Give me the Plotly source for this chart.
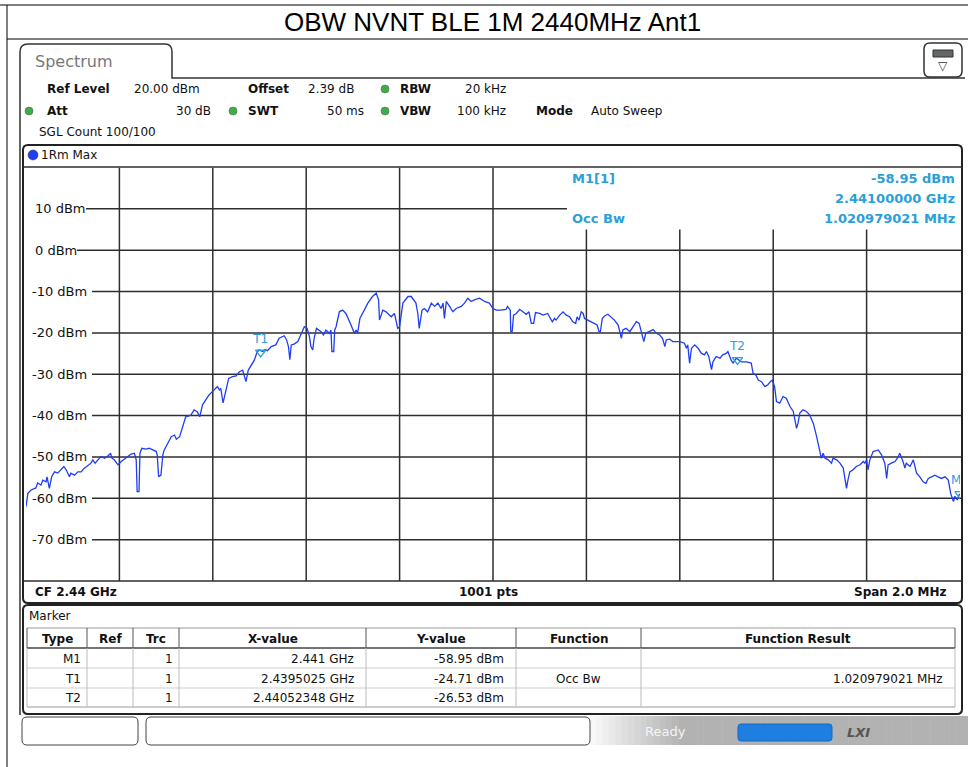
import plotly.graph_objects as go

W, H = 968, 767

# trace: offset from CF (kHz) and level (dBm)
CF_GHZ = 2.44
freq_offset_khz = [
    -1000, -996, -989, -979, -975, -968, -964, -957, -955, -950, -945, -939, -932, -925, -919, -914,
    -907, -904, -896, -889, -882, -875, -868, -861, -857, -852, -846, -839, -832, -825, -819, -816,
    -811, -803, -796, -789, -782, -775, -768, -764, -762, -758, -756, -752, -743, -736, -728, -721,
    -719, -716, -711, -707, -704, -696, -689, -682, -678, -671, -664, -658, -647, -640, -633, -628,
    -622, -615, -608, -601, -595, -590, -586, -583, -578, -573, -566, -558, -550, -543, -536, -533,
    -529, -524, -518, -511, -506, -501, -493, -488, -483, -475, -465, -458, -447, -442, -438, -435,
    -432, -426, -418, -411, -404, -398, -393, -390, -386, -383, -378, -368, -363, -358, -350, -347,
    -345, -341, -339, -336, -333, -329, -322, -315, -304, -297, -293, -290, -285, -279, -268, -258,
    -250, -245, -243, -236, -229, -218, -211, -204, -200, -193, -182, -175, -165, -161, -158, -152,
    -147, -140, -132, -125, -118, -111, -107, -104, -100, -93, -86, -79, -68, -61, -54, -47,
    -40, -29, -18, -8, 0, 7, 17, 28, 31, 37, 38, 41, 44, 50, 57, 64,
    71, 77, 82, 87, 91, 100, 107, 117, 121, 127, 132, 135, 143, 150, 157, 164,
    171, 177, 180, 184, 189, 193, 196, 203, 211, 218, 223, 227, 230, 234, 239, 246,
    253, 260, 268, 271, 275, 278, 285, 293, 300, 307, 313, 318, 323, 327, 335, 343,
    350, 357, 363, 368, 371, 378, 385, 393, 400, 410, 414, 417, 421, 425, 432, 439,
    446, 453, 457, 462, 468, 471, 478, 486, 492, 500, 503, 510, 514, 521, 532, 543,
    553, 557, 563, 568, 575, 582, 588, 594, 598, 603, 607, 614, 621, 628, 636, 643,
    646, 650, 653, 657, 664, 671, 678, 686, 693, 700, 703, 707, 711, 718, 725, 728,
    736, 743, 750, 753, 757, 760, 764, 771, 778, 786, 793, 796, 800, 803, 807, 814,
    825, 832, 839, 843, 846, 853, 861, 868, 871, 878, 882, 885, 893, 900, 903, 907,
    914, 921, 927, 932, 939, 946, 953, 960, 968, 975, 980, 986, 989, 994, 998, 1000,
]
level_dbm = [
    -62.0, -58.8, -58.0, -57.5, -56.3, -56.8, -55.6, -56.0, -54.8, -57.6, -54.8, -53.6, -53.9, -53.1, -52.3, -53.1,
    -54.8, -53.9, -54.4, -53.6, -53.6, -52.7, -52.2, -51.5, -50.7, -51.5, -50.7, -49.9, -50.3, -49.8, -49.1, -50.3,
    -50.7, -51.9, -51.1, -50.6, -49.9, -49.3, -49.1, -50.7, -58.4, -58.4, -49.1, -47.9, -48.1, -47.9, -48.3, -48.7,
    -49.5, -54.8, -54.4, -49.5, -48.3, -46.7, -45.1, -44.7, -45.7, -45.1, -42.7, -40.3, -39.9, -38.6, -39.1, -40.3,
    -37.4, -36.2, -35.0, -34.2, -33.4, -33.0, -33.8, -33.4, -36.9, -34.2, -31.0, -30.6, -30.4, -29.4, -29.0, -30.2,
    -31.8, -29.0, -27.8, -26.6, -24.9, -24.1, -24.5, -24.0, -24.3, -23.3, -22.9, -21.3, -20.7, -21.7, -23.3, -26.5,
    -22.9, -22.7, -22.1, -20.5, -18.5, -18.9, -20.9, -23.3, -24.1, -21.3, -18.9, -19.7, -20.5, -19.3, -20.1, -19.3,
    -24.5, -24.5, -19.3, -18.5, -16.9, -14.9, -14.5, -15.3, -18.1, -20.1, -19.3, -20.1, -16.5, -15.3, -12.8, -11.2,
    -10.4, -12.0, -16.9, -14.5, -14.9, -16.1, -15.3, -18.9, -18.5, -12.8, -11.2, -11.2, -12.8, -15.3, -18.9, -14.5,
    -14.1, -14.9, -12.8, -13.6, -12.8, -14.1, -12.8, -16.5, -12.4, -13.6, -14.9, -14.1, -13.6, -12.8, -11.6, -12.4,
    -12.0, -11.6, -12.4, -12.8, -14.1, -14.5, -14.5, -14.3, -13.6, -14.5, -19.7, -19.7, -15.7, -15.3, -14.3, -14.9,
    -15.5, -14.9, -17.7, -17.7, -15.1, -15.3, -15.7, -15.3, -16.1, -17.3, -16.5, -16.9, -15.7, -14.9, -15.7, -16.1,
    -17.3, -17.7, -16.1, -16.9, -14.9, -15.3, -16.5, -16.9, -17.3, -17.7, -18.1, -19.7, -19.7, -16.5, -15.9, -15.5,
    -16.1, -16.9, -18.1, -19.3, -21.3, -19.3, -18.9, -19.7, -18.5, -17.3, -17.7, -20.1, -22.1, -20.1, -19.7, -19.2,
    -20.1, -20.5, -21.3, -23.3, -21.7, -21.5, -22.1, -22.1, -22.1, -22.5, -23.7, -22.9, -27.3, -23.7, -22.9, -23.7,
    -24.9, -25.3, -24.5, -25.7, -28.9, -27.0, -25.7, -26.1, -25.3, -24.9, -24.5, -26.6, -27.3, -26.1, -27.0, -27.0,
    -27.3, -29.8, -30.2, -31.4, -31.8, -33.0, -32.6, -31.8, -31.4, -33.0, -36.6, -37.0, -35.4, -35.8, -37.8, -39.0,
    -40.6, -43.1, -41.9, -39.4, -38.6, -39.0, -39.8, -41.9, -45.1, -48.3, -50.3, -49.1, -50.3, -50.7, -51.5, -50.3,
    -50.7, -51.5, -52.7, -54.8, -57.6, -55.6, -53.6, -53.1, -52.3, -51.9, -51.1, -51.5, -50.7, -53.1, -50.7, -48.7,
    -48.3, -49.5, -51.5, -55.2, -51.9, -51.5, -51.1, -49.9, -49.1, -51.1, -52.7, -51.5, -52.3, -50.7, -51.9, -53.9,
    -54.8, -56.0, -56.4, -55.2, -54.8, -54.4, -54.8, -55.2, -54.8, -55.6, -58.8, -60.8, -59.5, -60.4, -59.2, -58.95,
]

y_ticks = [10, 0, -10, -20, -30, -40, -50, -60, -70]

marker_names = ["M1", "T1", "T2"]
marker_freq_ghz = [2.441, 2.4395025, 2.44052348]
marker_level_dbm = [-58.95, -24.71, -26.53]
marker_x_text = ["2.441 GHz", "2.4395025 GHz", "2.44052348 GHz"]
marker_y_text = ["-58.95 dBm", "-24.71 dBm", "-26.53 dBm"]
marker_function = ["", "Occ Bw", ""]
marker_result = ["", "1.020979021 MHz", ""]

FONT = "DejaVu Sans"
MK_BLUE = "#2a9fd8"
GRID = "#2e2e2e"
GREEN = "#3fae49"


def px(x):
    return x / W


def py(y):
    return 1 - y / H


def rrect(x0, y0, x1, y1, r):
    """rounded rectangle path in paper coords, from pixel values"""
    p = [
        f"M {px(x0 + r)},{py(y0)}", f"L {px(x1 - r)},{py(y0)}", f"Q {px(x1)},{py(y0)} {px(x1)},{py(y0 + r)}",
        f"L {px(x1)},{py(y1 - r)}", f"Q {px(x1)},{py(y1)} {px(x1 - r)},{py(y1)}",
        f"L {px(x0 + r)},{py(y1)}", f"Q {px(x0)},{py(y1)} {px(x0)},{py(y1 - r)}",
        f"L {px(x0)},{py(y0 + r)}", f"Q {px(x0)},{py(y0)} {px(x0 + r)},{py(y0)}", "Z",
    ]
    return " ".join(p)


shapes = []
annotations = []


def box(x0, y0, x1, y1, line="#222", width=1, fill=None, layer="below"):
    shapes.append(dict(type="rect", xref="paper", yref="paper", x0=px(x0), x1=px(x1), y0=py(y1), y1=py(y0),
                       line=dict(color=line, width=width), fillcolor=fill, layer=layer))


def hline(x0, x1, y, color="#222", width=1):
    shapes.append(dict(type="line", xref="paper", yref="paper", x0=px(x0), x1=px(x1), y0=py(y), y1=py(y),
                       line=dict(color=color, width=width), layer="below"))


def vline(x, y0, y1, color="#222", width=1):
    shapes.append(dict(type="line", xref="paper", yref="paper", x0=px(x), x1=px(x), y0=py(y0), y1=py(y1),
                       line=dict(color=color, width=width), layer="below"))


def text(x, y, s, size=12, color="#111", bold=False, anchor="left", family=FONT):
    if bold:
        s = f"<b>{s}</b>"
    annotations.append(dict(x=px(x), y=py(y), xref="paper", yref="paper", text=s, showarrow=False,
                            xanchor=anchor, yanchor="middle", font=dict(family=family, size=size, color=color)))


def dot(x, y, r, color, line="#555"):
    shapes.append(dict(type="circle", xref="paper", yref="paper", x0=px(x - r), x1=px(x + r),
                       y0=py(y + r), y1=py(y - r), fillcolor=color, line=dict(color=line, width=0.5)))


# page title box
hline(0, W, 5, "#000", 1)
hline(7, W, 39, "#000", 1)
vline(7, 5, H, "#000", 1)
text(492, 22, "OBW NVNT BLE 1M 2440MHz Ant1", size=26, color="#000", anchor="center", family="Liberation Sans")

# status bar background gradient (drawn first, under everything else)
for i in range(60):
    g = int(248 - 70 * min(1, i / 14))
    box(590 + i * 6.3, 716, 590 + (i + 1) * 6.3 + 0.5, 745, line=f"rgb({g},{g},{g})", width=0,
        fill=f"rgb({g},{g},{g})")

# instrument frame + Spectrum tab
shapes.append(dict(type="path", xref="paper", yref="paper", layer="below", line=dict(color="#333", width=1.5),
                   path=f"M {px(20)},{py(715)} L {px(20)},{py(52)} Q {px(20)},{py(44)} {px(28)},{py(44)} "
                        f"L {px(165)},{py(44)} Q {px(172)},{py(44)} {px(172)},{py(52)} L {px(172)},{py(78)} "
                        f"L {px(965)},{py(78)}"))
text(33, 61, "Spectrum", size=16, color="#777")
shapes.append(dict(type="path", xref="paper", yref="paper", path=rrect(924, 43, 962, 77, 6),
                   line=dict(color="#333", width=1.5), fillcolor="white", layer="below"))
box(933, 50, 953, 57, line="#333", width=1, fill="#666")
text(943, 66, "▽", size=12, color="#333", anchor="center")

# setting lines
text(45, 89, "Ref Level", bold=True)
text(132, 89, "20.00 dBm")
text(246, 89, "Offset", bold=True)
text(306, 89, "2.39 dB")
dot(385, 89, 4, GREEN)
text(398, 89, "RBW", bold=True)
text(508, 89, "20 kHz", anchor="right")
dot(29, 111, 4, GREEN)
text(45, 111, "Att", bold=True)
text(213, 111, "30 dB", anchor="right")
dot(233, 111, 4, GREEN)
text(246, 111, "SWT", bold=True)
text(366, 111, "50 ms", anchor="right")
dot(385, 111, 4, GREEN)
text(398, 111, "VBW", bold=True)
text(508, 111, "100 kHz", anchor="right")
text(534, 111, "Mode", bold=True)
text(589, 111, "Auto Sweep")
text(37, 132, "SGL Count 100/100")

# trace window
shapes.append(dict(type="path", xref="paper", yref="paper", path=rrect(23, 145, 962, 603, 5),
                   line=dict(color="#222", width=2), layer="below"))
hline(23, 962, 167, GRID, 1.5)
hline(23, 962, 581, GRID, 1.5)
dot(33, 155, 5, "#1f3df5", "#333")
text(39, 155, "1Rm Max")
text(33, 592, "CF 2.44 GHz", bold=True)
text(489, 592, "1001 pts", bold=True, anchor="center")
text(948, 592, "Span 2.0 MHz", bold=True, anchor="right")

# vertical grid (data coords); right ones stop below the marker readout
for k in range(1, 10):
    xg = CF_GHZ - 0.001 + 0.0002 * k
    shapes.append(dict(type="line", xref="x", yref="y", x0=xg, x1=xg, y0=-80, y1=20 if k < 6 else 5,
                       line=dict(color=GRID, width=1.5), layer="below"))
# horizontal grid starts after each level label
for v in y_ticks:
    lab = f"{v} dBm"
    x_lab = 33 if v >= 0 else 30
    x_start = x_lab + 9.0 * len(lab) - 1
    x_end = 567 if v == 10 else 961
    shapes.append(dict(type="line", xref="paper", yref="y", x0=px(x_start), x1=px(x_end), y0=v, y1=v,
                       line=dict(color=GRID, width=1.5), layer="below"))
    annotations.append(dict(x=px(x_lab), y=v, xref="paper", yref="y", text=lab, showarrow=False,
                            xanchor="left", yanchor="middle", font=dict(family=FONT, size=13, color="#111")))

# marker readout in the diagram
text(570, 178, "M1[1]", size=13, color=MK_BLUE, bold=True)
text(957, 178, marker_y_text[0], size=13, color=MK_BLUE, bold=True, anchor="right")
text(957, 198, "2.44100000 GHz", size=13, color=MK_BLUE, bold=True, anchor="right")
text(570, 219, marker_function[1], size=13, color=MK_BLUE, bold=True)
text(957, 219, marker_result[1], size=13, color=MK_BLUE, bold=True, anchor="right")

# marker table
shapes.append(dict(type="path", xref="paper", yref="paper", path=rrect(23, 605, 962, 714, 5),
                   line=dict(color="#222", width=2), layer="below"))
text(27, 616, "Marker")
col_edges = [27, 87, 133, 179, 366, 516, 641, 955]
hline(27, 955, 628, "#999", 1)
hline(27, 955, 648, "#444", 1.5)
for yy in [668, 688]:
    hline(27, 955, yy, "#cfcfcf", 1)
hline(27, 955, 707, "#999", 1)
for xe in col_edges:
    vline(xe, 628, 648, "#555", 1)
    vline(xe, 648, 707, "#bbb", 1)
headers = ["Type", "Ref", "Trc", "X-value", "Y-value", "Function", "Function Result"]
for i, hd in enumerate(headers):
    text((col_edges[i] + col_edges[i + 1]) / 2, 639, hd, bold=True, anchor="center")
for r, name in enumerate(marker_names):
    yy = 659 + 19.5 * r
    text(col_edges[1] - 4, yy, name, anchor="right")
    text(col_edges[3] - 4, yy, "1", anchor="right")
    text(col_edges[4] - 10, yy, marker_x_text[r], anchor="right")
    text(col_edges[5] - 10, yy, marker_y_text[r], anchor="right")
    if marker_function[r]:
        text((col_edges[5] + col_edges[6]) / 2, yy, marker_function[r], anchor="center")
    if marker_result[r]:
        text(col_edges[7] - 10, yy, marker_result[r], anchor="right")

# status bar
shapes.append(dict(type="path", xref="paper", yref="paper", path=rrect(22, 717, 138, 745, 5),
                   line=dict(color="#444", width=1), fillcolor="white"))
vline(113, 720, 742, "#ccc", 1)
shapes.append(dict(type="path", xref="paper", yref="paper", path=rrect(146, 717, 590, 745, 5),
                   line=dict(color="#444", width=1), fillcolor="white"))
vline(566, 720, 742, "#ccc", 1)
text(665, 731, "Ready", size=13, color="#f4f4f4", anchor="center")
shapes.append(dict(type="path", xref="paper", yref="paper", path=rrect(738, 724, 832, 741, 3),
                   line=dict(color="#1569c7", width=1), fillcolor="#1e7fe0"))
for k in range(1, 9):
    vline(738 + k * 10.4, 725, 740, "#d8e8f8", 1.2)
text(858, 732, "<i>LXI</i>", size=13, color="#555", bold=True, anchor="center")

fig = go.Figure()
fig.add_trace(go.Scatter(
    x=[CF_GHZ + f / 1e6 for f in freq_offset_khz], y=level_dbm, mode="lines",
    line=dict(color="#1f3df5", width=1.3), hoverinfo="skip", showlegend=False,
))
fig.add_trace(go.Scatter(
    x=marker_freq_ghz, y=marker_level_dbm, mode="markers+text", text=marker_names,
    textposition="top center", textfont=dict(family=FONT, size=12, color=MK_BLUE),
    marker=dict(symbol="triangle-down-open", size=9, color=MK_BLUE, line=dict(width=1.3)),
    cliponaxis=True, showlegend=False,
))

fig.update_layout(
    width=W, height=H, margin=dict(l=0, r=0, t=0, b=0),
    paper_bgcolor="white", plot_bgcolor="rgba(0,0,0,0)",
    xaxis=dict(domain=[px(26), px(960)], range=[CF_GHZ - 0.001, CF_GHZ + 0.001], showgrid=False,
               zeroline=False, showticklabels=False, ticks=""),
    yaxis=dict(domain=[py(581), py(167.5)], range=[-80, 20], showgrid=False, zeroline=False,
               showticklabels=False, ticks=""),
    shapes=shapes, annotations=annotations,
)

# page body has a default 8px margin; drop it so the figure sits at 0,0
fig.write_html("out.html", config={"displayModeBar": False},
               post_script="document.body.style.margin='0';")
